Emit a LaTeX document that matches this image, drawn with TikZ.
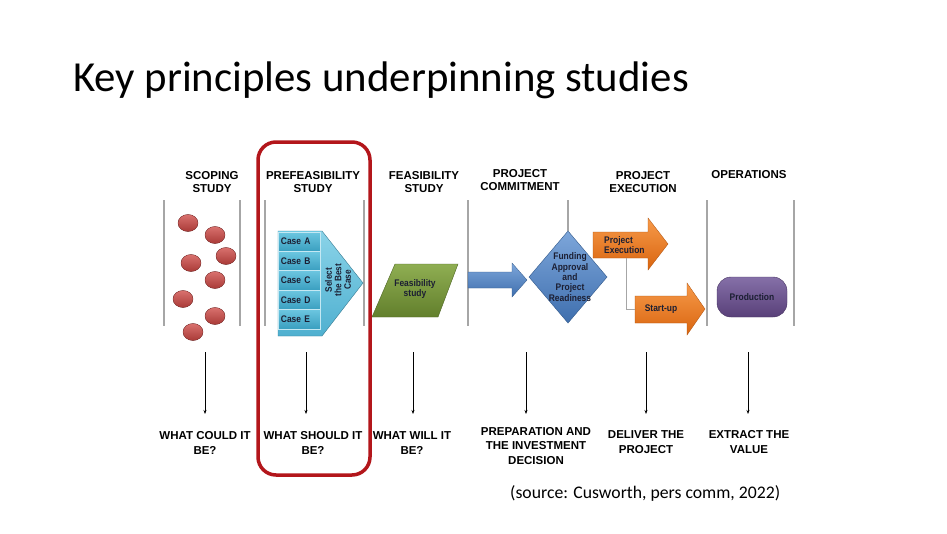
\documentclass[tikz,border=0pt]{standalone}
\usepackage{fontspec}
\setmainfont{Liberation Sans}
\newfontfamily\titlefont{Carlito}
\newfontfamily\narrowfont[FakeStretch=0.88]{Liberation Sans}
\usetikzlibrary{arrows.meta}
\definecolor{gline}{HTML}{A6A6A6}
\definecolor{boxred}{HTML}{B3161B}
\definecolor{txtdark}{HTML}{1C1F33}
\definecolor{balltop}{HTML}{D9716E}
\definecolor{ballbot}{HTML}{A93A37}
\definecolor{casetop}{HTML}{6CC6E0}
\definecolor{casebot}{HTML}{3A9FC0}
\definecolor{chevtop}{HTML}{8AD3E8}
\definecolor{chevbot}{HTML}{4FB0D0}
\definecolor{grtop}{HTML}{8FAE52}
\definecolor{grbot}{HTML}{627F2C}
\definecolor{bltop}{HTML}{7DA6DA}
\definecolor{blbot}{HTML}{3F6FAE}
\definecolor{ortop}{HTML}{F79A4A}
\definecolor{orbot}{HTML}{D9650F}
\definecolor{putop}{HTML}{8570A8}
\definecolor{pubot}{HTML}{594079}
\tikzset{
  sep/.style={draw=gline, line width=1.1pt},
  head/.style={font=\fontsize{11.5}{13.5}\selectfont\bfseries, align=center, text=black, inner sep=0pt},
  qlabel/.style={font=\fontsize{11.5}{14.5}\selectfont\bfseries, align=center, text=black, inner sep=0pt},
  ball/.style={top color=balltop, bottom color=ballbot, draw=ballbot!80!black, line width=0.3pt},
  casebox/.style={draw=casetop!40!white, line width=0.8pt, top color=casetop, bottom color=casebot, text=txtdark, font=\narrowfont\fontsize{9.6}{10}\selectfont\bfseries},
  intext/.style={text=txtdark, font=\narrowfont\fontsize{9.6}{10.3}\selectfont\bfseries, align=center, inner sep=0pt},
  down/.style={-{Stealth[length=4pt,width=3pt]}, line width=0.6pt, black},
}
\begin{document}
\begin{tikzpicture}[x=1pt,y=-1pt]
\useasboundingbox[fill=white] (0,0) rectangle (947,533);
% title
\node[anchor=base west, inner sep=0pt, font=\titlefont\fontsize{42.8}{48}\selectfont] (title) at (73,91) {Key principles underpinning studies};
% separators
\foreach \x/\n in {164/a,240/b,265/c,364/d,468/e,707/g,794/h}{
  \draw[sep] (\x,200) coordinate (s\n t) -- (\x,326) coordinate (s\n b);
}
% headings
\node[head] (h1) at (212,182) {SCOPING\\STUDY};
\node[head] (h2) at (313,182) {PREFEASIBILITY\\STUDY};
\node[head] (h3) at (424,182) {FEASIBILITY\\STUDY};
\node[head] (h4) at (520,180) {PROJECT\\COMMITMENT};
\node[head] (h5) at (643,182) {PROJECT\\EXECUTION};
\node[head] (h6) at (749,175) {OPERATIONS};
% red balls
\foreach \x/\y/\n in {188/223/1,215/235/2,226/256/3,191/263/4,215/280/5,183/299/6,215/316/7,193/332/8}{
  \fill[ball] (\x,\y) ellipse [x radius=10, y radius=8.5];
}
% prefeasibility chevron + cases
\path[top color=chevtop, bottom color=chevbot, draw=chevbot!70!black, line width=0.4pt]
  (278,231) -- (322,231) -- (363,283) -- (322,336) -- (278,336) -- cycle;
\foreach \i/\c in {0/A,1/B,2/C,3/D,4/E}{
  \node[casebox, minimum width=42, minimum height=19.4, inner sep=0pt, anchor=north west, text width=37]
    (case\c) at (278,{231.5+19.4*\i}) {Case \c};
}
\node[intext, rotate=90, font=\narrowfont\fontsize{9.4}{9.6}\selectfont\bfseries] (best) at (338,280) {Select\\the Best\\Case};
% feasibility parallelogram
\path[top color=grtop, bottom color=grbot, draw=grbot!80!black, line width=0.4pt]
  (395,264) -- (458,264) -- (438,317) -- (372,317) -- cycle;
\node[intext] (feas) at (415,289) {Feasibility\\study};
% blue arrow
\path[top color=bltop, bottom color=blbot, draw=blbot!80!black, line width=0.3pt]
  (468,272) -- (512,272) -- (512,263) -- (527,280) -- (512,297) -- (512,288) -- (468,288) -- cycle;
% diamond
\draw[sep] (568,200) coordinate (sft) -- (568,231);
\path[top color=bltop, bottom color=blbot, draw=blbot!80!black, line width=0.4pt]
  (568,231) coordinate (dtop) -- (607,277) -- (568,323) -- (529,277) -- cycle;
\node[intext, font=\narrowfont\fontsize{9.6}{10.3}\selectfont\bfseries] (fund) at (570,277) {Funding\\Approval\\and\\Project\\Readiness};
% orange arrows
\path[top color=ortop, bottom color=orbot, draw=orbot!80!black, line width=0.3pt]
  (593,232) -- (648,232) -- (648,218) -- (668,244) -- (648,270) -- (648,258) -- (593,258) -- cycle;
\node[intext, align=left, anchor=west] (pexec) at (604,245) {Project\\Execution};
\path[top color=ortop, bottom color=orbot, draw=orbot!80!black, line width=0.3pt]
  (635,296) -- (687,296) -- (687,283) -- (705,309) -- (687,335) -- (687,323) -- (635,323) -- cycle;
\node[intext] (startup) at (661,309) {Start-up};
\coordinate (pe b) at (626,258);
\coordinate (su w) at (635,309);
\draw[gline, line width=1pt] (pe b) |- (su w);
% production
\node[draw=pubot!80!black, line width=0.4pt, top color=putop, bottom color=pubot, rounded corners=14, minimum width=70, minimum height=40, inner sep=0pt, text=txtdark, font=\narrowfont\fontsize{9.6}{10}\selectfont\bfseries] (prod) at (752,297) {Production};
% red highlight box
\draw[boxred, line width=3.5pt, rounded corners=18] (258,142) rectangle (370,475);
% down arrows and question labels
\foreach \x/\n in {205/1,306/2,413/3,526/4,646/5,748/6}{
  \coordinate (d\n) at (\x,352);
  \coordinate (e\n) at (\x,414);
  \draw[down] (d\n) -- (e\n);
}
\node[qlabel] (q1) at (205,443) {WHAT COULD IT\\BE?};
\node[qlabel] (q2) at (313,443) {WHAT SHOULD IT\\BE?};
\node[qlabel] (q3) at (412,443) {WHAT WILL IT\\BE?};
\node[qlabel] (q4) at (536,446) {PREPARATION AND\\THE INVESTMENT\\DECISION};
\node[qlabel] (q5) at (646,442) {DELIVER THE\\PROJECT};
\node[qlabel] (q6) at (749,442) {EXTRACT THE\\VALUE};
% source
\node[anchor=base west, inner sep=0pt, font=\titlefont\fontsize{17.7}{20}\selectfont] (src) at (510,498) {(source: Cusworth, pers comm, 2022)};
\end{tikzpicture}
\end{document}
